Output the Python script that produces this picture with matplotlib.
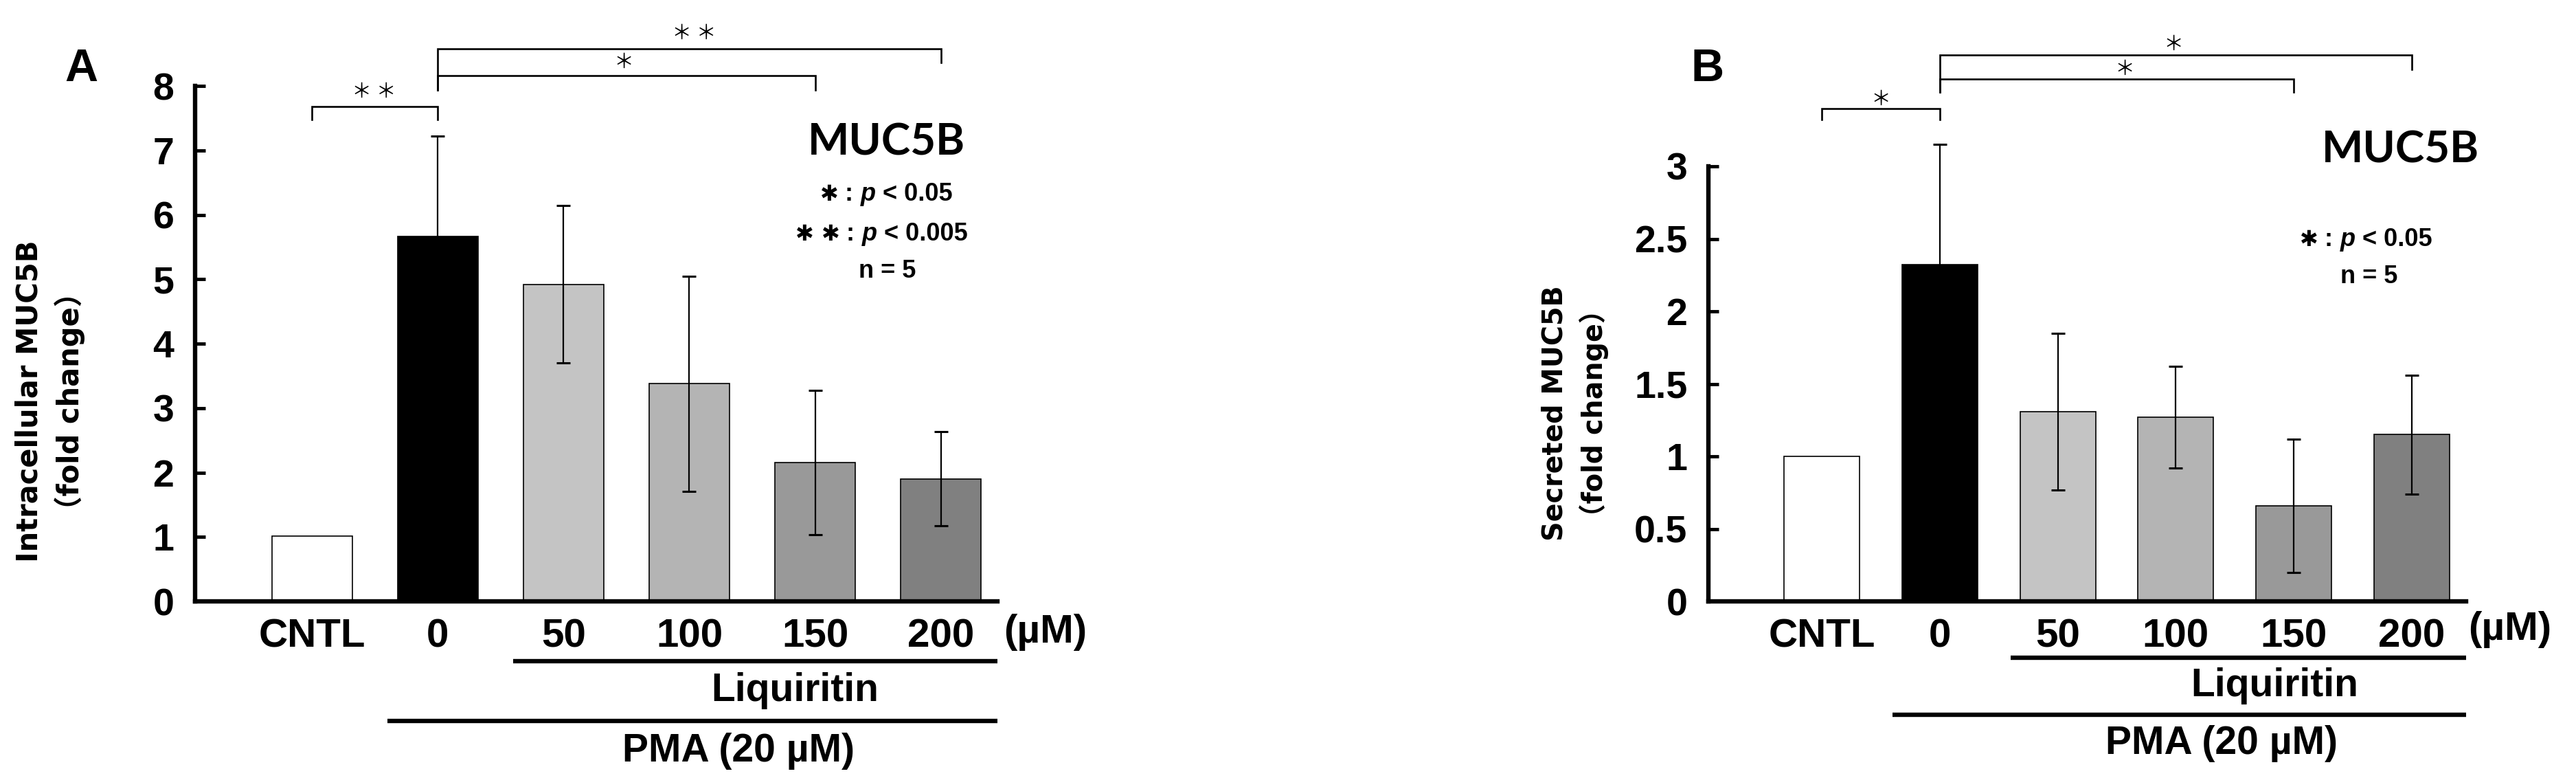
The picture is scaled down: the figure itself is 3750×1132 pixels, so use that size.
import numpy as np
import matplotlib
matplotlib.use("Agg")
import matplotlib.pyplot as plt
from matplotlib import font_manager
from matplotlib import transforms
from matplotlib.offsetbox import TextArea, HPacker, AnnotationBbox

# ---- data ----
groups = ['CNTL', '0', '50', '100', '150', '200']
bar_colors = ['#ffffff', '#000000', '#c4c4c4', '#b4b4b4', '#999999', '#808080']

intra_mean = [1.01, 5.66, 4.92, 3.38, 2.15, 1.90]
intra_sd = [0.0, 1.56, 1.22, 1.67, 1.12, 0.73]
intra_ticks = [0, 1, 2, 3, 4, 5, 6, 7, 8]

secr_mean = [1.00, 2.32, 1.31, 1.27, 0.66, 1.15]
secr_sd = [0.0, 0.83, 0.54, 0.35, 0.46, 0.41]
secr_ticks = [0, 0.5, 1, 1.5, 2, 2.5, 3]

# brackets: (left bar, right bar, top, left drop, right drop, stars)
intra_sig = [(0, 1, 7.68, 7.48, 7.48, '＊ ＊'),
             (1, 4, 8.16, 7.94, 7.94, '＊'),
             (1, 5, 8.58, 7.94, 8.36, '＊ ＊')]
secr_sig = [(0, 1, 3.40, 3.32, 3.32, '＊'),
            (1, 4, 3.60, 3.51, 3.51, '＊'),
            (1, 5, 3.77, 3.51, 3.67, '＊')]

names = {f.name for f in font_manager.fontManager.ttflist}
SANS = 'Liberation Sans'
TITLE_FONT = 'Lato' if 'Lato' in names else 'DejaVu Sans'
CJK = 'Noto Sans CJK JP'

fig = plt.figure(figsize=(37.5, 11.32), dpi=100)

W, H = 3750.0, 1132.0


def fx(px):
    return px / W


def fy(py):
    return 1 - py / H


def legend_line(parts, px, py, size=26):
    boxes = []
    for txt, kind in parts:
        if kind == 'star':
            props = dict(fontfamily='DejaVu Sans', fontweight='bold',
                         fontsize=size - 3)
        elif kind == 'ital':
            props = dict(fontfamily=SANS, fontweight='bold', fontstyle='italic',
                         fontsize=size)
        else:
            props = dict(fontfamily=SANS, fontweight='bold', fontsize=size)
        boxes.append(TextArea(txt, textprops=props))
    pack = HPacker(children=boxes, sep=0, pad=0, align='baseline')
    ab = AnnotationBbox(pack, (fx(px), fy(py)), xycoords='figure fraction',
                        frameon=False, box_alignment=(0.5, 0.5), pad=0)
    fig.add_artist(ab)


def panel(rect, means, sds, yticks, ymax, xlim, sig, star_pos, ylab, ylab_xy,
          ylab_size, letter_xy, label_y, width):
    ax = fig.add_axes(rect)
    x = np.arange(len(groups))
    ax.bar(x, means, width=width, color=bar_colors, edgecolor='black',
           linewidth=1.2, zorder=2)
    eb = ax.errorbar(x[1:], means[1:], yerr=sds[1:], fmt='none', ecolor='black',
                     elinewidth=1.6, capsize=7.5, capthick=2.2, zorder=3)
    for art in eb.lines[1] + eb.lines[2]:
        art.set_clip_on(False)
    ax.set_xlim(*xlim)
    ax.set_ylim(0, ymax)
    ax.set_yticks(yticks)
    ax.set_yticklabels([f'{t:g}' for t in yticks], fontfamily=SANS,
                       fontweight='bold', fontsize=40)
    ax.set_xticks(x)
    ax.set_xticklabels(groups, fontfamily=SANS, fontweight='bold', fontsize=42)
    ax.tick_params(axis='y', direction='in', length=11, width=3.5, pad=22)
    ax.tick_params(axis='x', length=0, pad=18)
    for s in ['top', 'right']:
        ax.spines[s].set_visible(False)
    for s in ['left', 'bottom']:
        ax.spines[s].set_linewidth(4.6)
        ax.spines[s].set_capstyle('projecting')

    # significance brackets
    for (a, b, top, dl, dr, st), (sx, sy) in zip(sig, star_pos):
        ax.plot([a, a, b, b], [dl, top, top, dr], color='black', lw=1.9,
                clip_on=False, solid_joinstyle='miter')
        ax.text(sx, sy, st, ha='center', va='center', fontsize=21,
                family=[CJK, 'DejaVu Sans'], clip_on=False)

    # labels under the axis
    bt = transforms.blended_transform_factory(ax.transData, fig.transFigure)
    ty, liq_line, liq_txt, pma_line, pma_txt = label_y
    ax.text(5.83, fy(ty), '(µM)', transform=bt, ha='center', va='center',
            fontfamily=SANS, fontweight='bold', fontsize=42)
    ax.plot([1.6, xlim[1]], [fy(liq_line)] * 2, transform=bt, color='black',
            lw=4.6, clip_on=False, solid_capstyle='butt')
    ax.text(3.84, fy(liq_txt), 'Liquiritin', transform=bt, ha='center',
            va='center', fontfamily=SANS, fontweight='bold', fontsize=41)
    ax.plot([0.6, xlim[1]], [fy(pma_line)] * 2, transform=bt, color='black',
            lw=4.6, clip_on=False, solid_capstyle='butt')
    ax.text(3.39, fy(pma_txt), 'PMA (20 µM)', transform=bt, ha='center',
            va='center', fontfamily=SANS, fontweight='bold', fontsize=41)

    fig.text(fx(ylab_xy[0]), fy(ylab_xy[1]), ylab, rotation=90, ha='center',
             va='center', fontsize=ylab_size, fontweight='bold',
             family=['DejaVu Sans', CJK], linespacing=1.45,
             multialignment='center')
    fig.text(fx(letter_xy[0]), fy(letter_xy[1]), letter_xy[2], ha='center',
             va='center', fontfamily=SANS, fontweight='bold', fontsize=48)
    return ax


panel([fx(284), fy(875), fx(1452) - fx(284), fy(125) - fy(875)],
      intra_mean, intra_sd, intra_ticks, 8, (-0.93, 5.45), intra_sig,
      [(0.49, 7.90), (2.48, 8.36), (3.04, 8.81)],
      'Intracellular MUC5B\n（fold change）', (73, 584), 30, (118, 101, 'A'),
      (920, 962, 1005, 1049, 1093), 0.64)
fig.text(fx(1290), fy(207), 'MUC5B', ha='center', va='center',
         fontfamily=TITLE_FONT, fontweight='bold', fontsize=46)
legend_line([('✱', 'star'), (' : ', 'b'), ('p', 'ital'), (' < 0.05', 'b')],
            1290, 283)
legend_line([('✱ ✱', 'star'), (' : ', 'b'), ('p', 'ital'), (' < 0.005', 'b')],
            1283, 340)
legend_line([('n = 5', 'b')], 1292, 395)

panel([fx(2487), fy(875), fx(3590) - fx(2487), fy(242) - fy(875)],
      secr_mean, secr_sd, secr_ticks, 3, (-0.96, 5.46), secr_sig,
      [(0.50, 3.46), (2.57, 3.67), (2.98, 3.84)],
      'Secreted MUC5B\n（fold change）', (2293, 601), 28.5, (2486, 101, 'B'),
      (916, 957, 998, 1040, 1082), 0.64)
fig.text(fx(3494), fy(218), 'MUC5B', ha='center', va='center',
         fontfamily=TITLE_FONT, fontweight='bold', fontsize=46)
legend_line([('✱', 'star'), (' : ', 'b'), ('p', 'ital'), (' < 0.05', 'b')],
            3444, 348)
legend_line([('n = 5', 'b')], 3449, 403)

fig.savefig('out.png', dpi=100)
